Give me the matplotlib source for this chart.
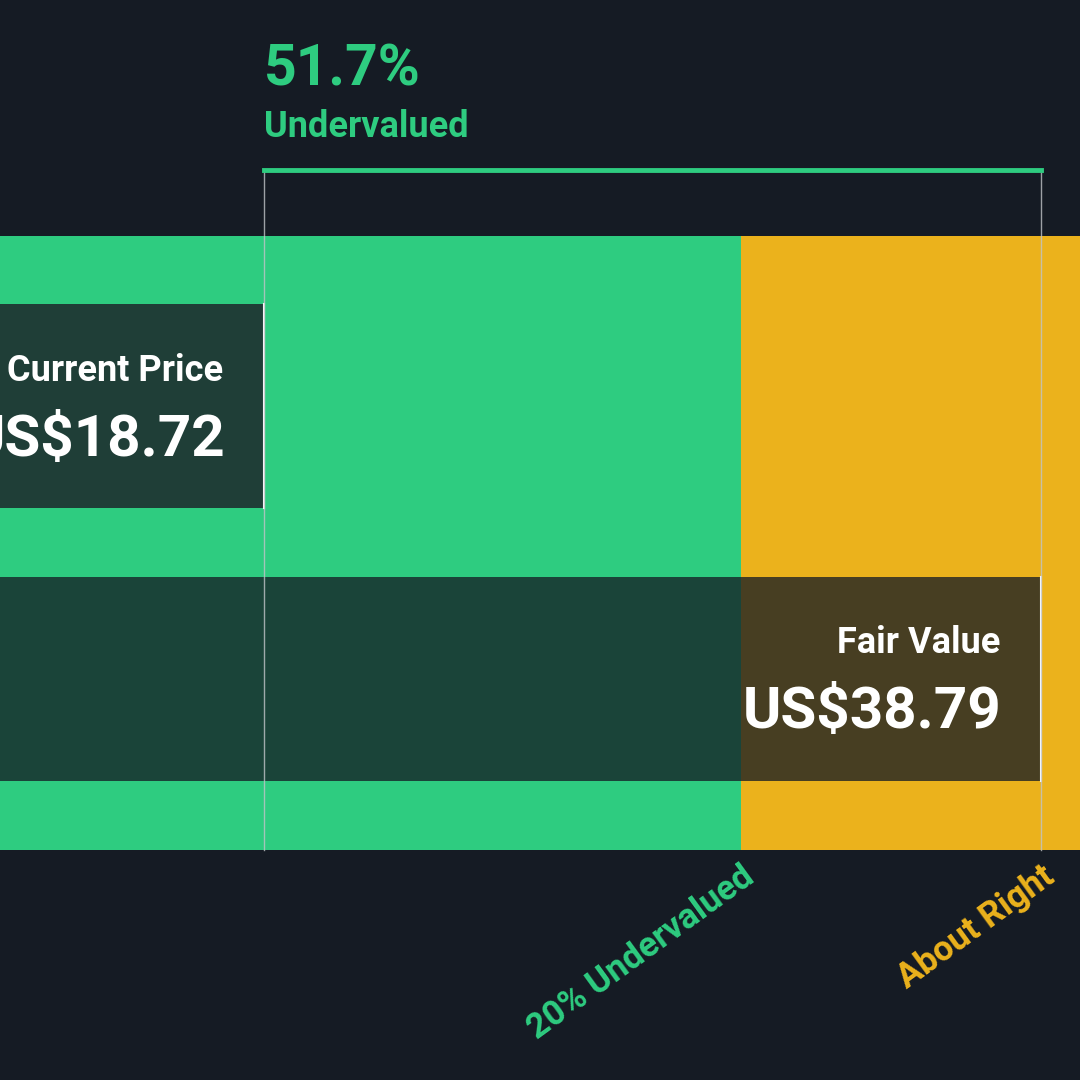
import matplotlib
matplotlib.use("Agg")
import matplotlib.pyplot as plt
from matplotlib.patches import Rectangle

current_price = 18.72
fair_value = 38.79
undervalued_pct = 51.7
labels = ["20% Undervalued", "About Right"]
thresholds = [0.8, 1.0]

BG = "#151b24"; GREEN = "#2ecc80"; YELLOW = "#ebb21c"
plt.rcParams['font.family'] = ['Roboto', 'DejaVu Sans']

fig = plt.figure(figsize=(10.8, 10.8), dpi=100, facecolor=BG)
ax = fig.add_axes([0, 0, 1, 1])
ax.set_facecolor(BG)
xmin, xmax = 11.90, 39.80
ax.set_xlim(xmin, xmax); ax.set_ylim(1080, 0); ax.axis('off')

t20 = thresholds[0] * fair_value
ax.add_patch(Rectangle((xmin, 236), t20 - xmin, 614, color=GREEN, lw=0))
ax.add_patch(Rectangle((t20, 236), xmax - t20, 614, color=YELLOW, lw=0))

ax.add_patch(Rectangle((xmin, 304), current_price - xmin, 204, color="#1f3e37", lw=0))
ax.plot([current_price, current_price], [304, 508], color="white", lw=1.5)
ax.add_patch(Rectangle((xmin, 577), fair_value - xmin, 204, color=BG, alpha=0.77, lw=0))
ax.plot([fair_value, fair_value], [577, 781], color="white", lw=1.5)

for v in (current_price, fair_value):
    ax.plot([v, v], [170, 850], color="#c0c4c8", lw=1, alpha=0.8)
ax.plot([current_price, fair_value], [170, 170], color=GREEN, lw=3.5)

ax.text(current_price, 70, f"{undervalued_pct}%", color=GREEN, fontsize=41, fontweight='bold', ha='left', va='center')
ax.text(current_price, 127, "Undervalued", color=GREEN, fontsize=26, fontweight='bold', ha='left', va='center')

def xv(px):
    return xmin + px / 1080 * (xmax - xmin)

ax.text(xv(223), 371, "Current Price", color="white", fontsize=26, fontweight='bold', ha='right', va='center')
ax.text(xv(225), 440, f"US${current_price:.2f}", color="white", fontsize=42, fontweight='bold', ha='right', va='center')
ax.text(xv(1000), 643, "Fair Value", color="white", fontsize=26, fontweight='bold', ha='right', va='center')
ax.text(xv(1002), 713, f"US${fair_value:.2f}", color="white", fontsize=42, fontweight='bold', ha='right', va='center')

for lab, t, c in zip(labels, thresholds, [GREEN, YELLOW]):
    ax.text(t * fair_value, 860, lab, color=c, fontsize=25, fontweight='bold', rotation=36,
            rotation_mode='anchor', ha='right', va='top')

fig.savefig("out.png", dpi=100, facecolor=BG)
